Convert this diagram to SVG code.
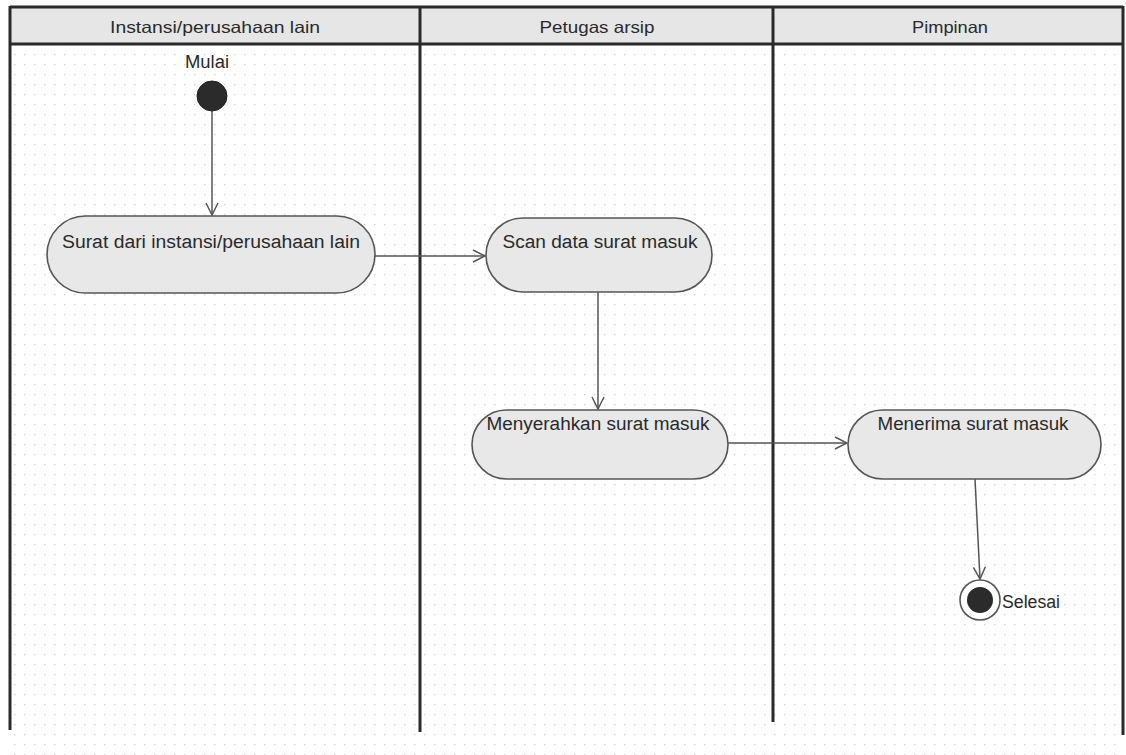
<svg xmlns="http://www.w3.org/2000/svg" width="1126" height="755" viewBox="0 0 1126 755">
<defs>
<pattern id="dots" x="0" y="0" width="10" height="10" patternUnits="userSpaceOnUse">
<rect x="4" y="4" width="1.4" height="1.4" fill="#d4d4d4"/>
</pattern>
<marker id="arr" viewBox="0 0 14 14" refX="13" refY="7" markerWidth="14" markerHeight="14" markerUnits="userSpaceOnUse" orient="auto">
<polyline points="1,1 13,7 1,13" fill="none" stroke="#555" stroke-width="1.5"/>
</marker>
<style>
.lbl{font-family:"Liberation Sans","DejaVu Sans",Arial,sans-serif;font-size:18px;fill:#2a2a2a;}
.hdr{font-family:"Liberation Sans","DejaVu Sans",Arial,sans-serif;font-size:16.5px;fill:#2a2a2a;text-anchor:middle;}
.act{fill:#e8e8e8;stroke:#555;stroke-width:1.6;}
.lane{stroke:#2a2a2a;stroke-width:3;fill:none;}
.edge{stroke:#555;stroke-width:1.5;fill:none;marker-end:url(#arr);}
</style>
</defs>
<rect width="1126" height="755" fill="#ffffff"/>
<rect x="10" y="44" width="1113" height="711" fill="url(#dots)"/>
<g id="swimlanes">
<rect x="10" y="7" width="1113" height="37" fill="#e6e6e6"/>
<line class="lane" x1="10" y1="7" x2="1123" y2="7"/>
<line class="lane" x1="10" y1="44" x2="1123" y2="44"/>
<line class="lane" x1="10" y1="6" x2="10" y2="730"/>
<line class="lane" x1="420" y1="6" x2="420" y2="732"/>
<line class="lane" x1="773" y1="6" x2="773" y2="722"/>
<line class="lane" x1="1123" y1="6" x2="1123" y2="735" stroke-width="2"/>
<text class="hdr" x="215" y="33" textLength="210" lengthAdjust="spacingAndGlyphs">Instansi/perusahaan lain</text>
<text class="hdr" x="597" y="33" textLength="115" lengthAdjust="spacingAndGlyphs">Petugas arsip</text>
<text class="hdr" x="950" y="33" textLength="76" lengthAdjust="spacingAndGlyphs">Pimpinan</text>
</g>
<g id="connectors">
<line class="edge" x1="212" y1="111" x2="212" y2="215"/>
<line class="edge" x1="375" y1="256" x2="485" y2="256"/>
<line class="edge" x1="598" y1="292" x2="598" y2="409"/>
<line class="edge" x1="728" y1="443" x2="847" y2="443"/>
<line class="edge" x1="975" y1="479" x2="980" y2="579"/>
</g>
<g id="start">
<text class="lbl" x="207" y="68" text-anchor="middle" textLength="44" lengthAdjust="spacingAndGlyphs">Mulai</text>
<circle cx="212" cy="96" r="15" fill="#2b2b2b" stroke="#222" stroke-width="1"/>
</g>
<g id="n1">
<rect class="act" x="47" y="216" width="328" height="77" rx="38.5"/>
<text class="lbl" x="211" y="248" text-anchor="middle" textLength="298" lengthAdjust="spacingAndGlyphs">Surat dari instansi/perusahaan lain</text>
</g>
<g id="n2">
<rect class="act" x="486" y="218" width="226" height="74" rx="37"/>
<text class="lbl" x="600" y="248" text-anchor="middle" textLength="195" lengthAdjust="spacingAndGlyphs">Scan data surat masuk</text>
</g>
<g id="n3">
<rect class="act" x="472" y="410" width="256" height="69" rx="34.5"/>
<text class="lbl" x="598" y="430" text-anchor="middle" textLength="223" lengthAdjust="spacingAndGlyphs">Menyerahkan surat masuk</text>
</g>
<g id="n4">
<rect class="act" x="848" y="410" width="253" height="69" rx="34.5"/>
<text class="lbl" x="973" y="430" text-anchor="middle" textLength="191" lengthAdjust="spacingAndGlyphs">Menerima surat masuk</text>
</g>
<g id="end">
<circle cx="980" cy="600" r="20" fill="#ffffff" stroke="#555" stroke-width="1.6"/>
<circle cx="980" cy="600" r="13" fill="#2b2b2b"/>
<text class="lbl" x="1002" y="608" textLength="58" lengthAdjust="spacingAndGlyphs">Selesai</text>
</g>
</svg>
